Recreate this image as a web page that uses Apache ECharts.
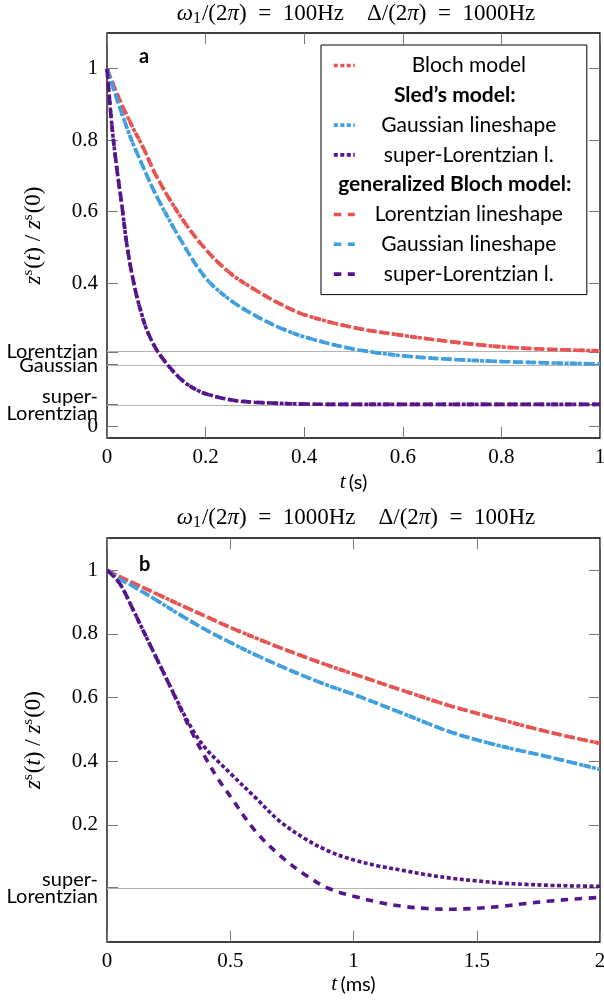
<!DOCTYPE html>
<html><head><meta charset="utf-8">
<script src="https://cdn.jsdelivr.net/npm/echarts@6/dist/echarts.min.js"></script>
<style>html,body{margin:0;padding:0;background:#fff}#c{width:604px;height:1002px}</style>
</head><body><div id="c"></div>
<script>
// ---------- Panel a (t in s) ----------
const tA = [0, 0.025, 0.05, 0.075, 0.1, 0.15, 0.2, 0.25, 0.3, 0.35, 0.4, 0.5, 0.6, 0.7, 0.8, 0.9, 1.0];
const lorentzA = [1, 0.915, 0.842, 0.775, 0.70, 0.585, 0.495, 0.428, 0.382, 0.343, 0.312, 0.276, 0.254, 0.236, 0.222, 0.215, 0.211];
const gaussA   = [1, 0.895, 0.80, 0.72, 0.645, 0.52, 0.415, 0.353, 0.31, 0.276, 0.25, 0.216, 0.197, 0.187, 0.181, 0.177, 0.174];
const tAP = [0, 0.01, 0.02, 0.03, 0.04, 0.05, 0.06, 0.07, 0.08, 0.1, 0.12, 0.14, 0.16, 0.18, 0.2, 0.25, 0.3, 0.4, 0.5, 0.7, 1.0];
const superLA = [1, 0.84, 0.72, 0.62, 0.51, 0.43, 0.365, 0.315, 0.272, 0.215, 0.177, 0.145, 0.12, 0.103, 0.091, 0.074, 0.067, 0.062, 0.061, 0.061, 0.061];
const refLinesA = [0.206, 0.172, 0.061];
const refNamesA = ['Lorentzian', 'Gaussian', 'super-\nLorentzian'];
const yTicksA = [0, 0.4, 0.6, 0.8, 1];

// ---------- Panel b (t in ms) ----------
const tB = [0, 0.05, 0.1, 0.2, 0.3, 0.4, 0.5, 0.6, 0.7, 0.8, 0.9, 1.0, 1.2, 1.4, 1.6, 1.8, 2.0];
const lorentzB = [1, 0.98, 0.962, 0.926, 0.89, 0.855, 0.82, 0.788, 0.757, 0.728, 0.70, 0.674, 0.622, 0.572, 0.53, 0.49, 0.456];
const gaussB   = [1, 0.972, 0.952, 0.906, 0.858, 0.813, 0.773, 0.735, 0.70, 0.667, 0.637, 0.61, 0.55, 0.49, 0.447, 0.412, 0.374];
const tBP = [0, 0.05, 0.1, 0.15, 0.2, 0.25, 0.3, 0.35, 0.4, 0.45, 0.5, 0.6, 0.7, 0.8, 0.9, 1.0, 1.1, 1.2, 1.3, 1.4, 1.5, 1.6, 1.7, 1.8, 1.9, 2.0];
const sledSuperLB   = [1, 0.96, 0.885, 0.805, 0.725, 0.645, 0.566, 0.495, 0.44, 0.40, 0.362, 0.287, 0.212, 0.158, 0.117, 0.09, 0.071, 0.057, 0.043, 0.032, 0.024, 0.017, 0.013, 0.01, 0.008, 0.007];
const gBlochSuperLB = [1, 0.96, 0.885, 0.805, 0.725, 0.645, 0.562, 0.482, 0.41, 0.345, 0.29, 0.182, 0.105, 0.045, 0.0, -0.024, -0.043, -0.056, -0.063, -0.065, -0.062, -0.056, -0.047, -0.039, -0.033, -0.028];
const refLinesB = [0.003];
const refNamesB = ['super-\nLorentzian'];
const yTicksB = [0.2, 0.4, 0.6, 0.8, 1];

const RED = '#e8524f', BLUE = '#3f9fe0', PURPLE = '#55158c';
const DOT = [4, 2.5], DASH = [7.5, 6.5];
const LW = 3.6;
const SERIF = 'Liberation Serif', SANS = 'Lato';

function pairs(xs, ys) { return xs.map((x, i) => [x, ys[i]]); }
function line(name, xs, ys, color, dash, ax) {
  return {
    type: 'line', name: name, data: pairs(xs, ys), xAxisIndex: ax, yAxisIndex: ax,
    symbol: 'none', smooth: 0.35, silent: true, animation: false,
    lineStyle: { color: color, width: LW, type: dash, cap: 'butt' }, itemStyle: { color: color },
    emphasis: { disabled: true }
  };
}
const wRich = { w: { fontFamily: SANS, fontSize: 20, color: '#000', lineHeight: 17 } };
function refLineSeries(vals, names, ax) {
  return {
    type: 'line', name: '_ref' + ax, data: [], xAxisIndex: ax, yAxisIndex: ax, silent: true, animation: false, clip: false,
    markLine: {
      silent: true, z: 1, symbol: ['none', 'none'], animation: false,
      lineStyle: { color: '#b4b4b4', width: 1, type: 'solid' },
      label: { show: true, position: 'start', distance: 9, color: '#000', rich: wRich },
      data: vals.map((v, i) => ({
        yAxis: v,
        label: { formatter: names[i].split('\n').map(s => '{w|' + s + '}').join('\n') }
      }))
    }
  };
}
const tickStyle = { inside: true, length: 11, lineStyle: { color: '#777', width: 1 } };
const noLine = { show: false, onZero: false };

function xAxes(grid, max, interval, nameUnit, gap) {
  return [
    { gridIndex: grid, type: 'value', min: 0, max: max, interval: interval, position: 'bottom',
      axisLine: noLine, axisTick: tickStyle, splitLine: { show: false },
      axisLabel: { margin: 9, fontFamily: SERIF, fontSize: 21, color: '#000', hideOverlap: false, showMinLabel: true, showMaxLabel: true },
      name: '{i|t} {s|(' + nameUnit + ')}', nameLocation: 'middle', nameGap: gap, nameMoveOverlap: false,
      nameTextStyle: { rich: { i: { fontFamily: SERIF, fontStyle: 'italic', fontSize: 21, color: '#000' }, s: { fontFamily: SANS, fontSize: 20, color: '#000' } } } },
    { gridIndex: grid, type: 'value', min: 0, max: max, interval: interval, position: 'top',
      axisLine: noLine, axisTick: tickStyle, splitLine: { show: false }, axisLabel: { show: false } }
  ];
}
const yNameRich = {
  i: { fontFamily: SERIF, fontStyle: 'italic', fontSize: 23, color: '#000' },
  n: { fontFamily: SERIF, fontSize: 23, color: '#000' },
  sup: { fontFamily: SERIF, fontSize: 15, color: '#000', padding: [0, 1, 11, 0] }
};
const yName = '{i|z}{sup|s}{n|(}{i|t}{n|) / }{i|z}{sup|s}{n|(0)}';
function yAxes(grid, min, max, ticks, refVals) {
  const tv = ticks.concat(refVals).sort((a, b) => a - b);
  return [
    { gridIndex: grid, type: 'value', min: min, max: max, position: 'left',
      axisLine: noLine, splitLine: { show: false },
      axisTick: Object.assign({ customValues: tv }, tickStyle),
      axisLabel: { customValues: ticks, margin: 9, hideOverlap: false, showMinLabel: true, showMaxLabel: true,
        fontFamily: SERIF, fontSize: 21, color: '#000' },
      name: yName, nameLocation: 'middle', nameGap: 60, nameRotate: 90, nameMoveOverlap: false,
      nameTextStyle: { rich: yNameRich } },
    { gridIndex: grid, type: 'value', min: min, max: max, position: 'right',
      axisLine: noLine, splitLine: { show: false }, axisLabel: { show: false },
      axisTick: Object.assign({ customValues: tv }, tickStyle) }
  ];
}

const titleRich = {
  i: { fontFamily: SERIF, fontStyle: 'italic', fontWeight: 'normal', fontSize: 23, color: '#000' },
  n: { fontFamily: SERIF, fontWeight: 'normal', fontSize: 23, color: '#000' },
  sub: { fontFamily: SERIF, fontWeight: 'normal', fontSize: 16, color: '#000', padding: [10, 1, 0, 0] }
};
function titleText(w1, d) {
  return '{i|ω}{sub|1}{n|/(2}{i|π}{n|)  =  ' + w1 + 'Hz    Δ/(2}{i|π}{n|)  =  ' + d + 'Hz}';
}

const legendNames = {
  'Bloch model': '{c|Bloch model}',
  'Sled header': '{h|Sled’s model:}',
  'Sled Gaussian': '{c|Gaussian lineshape}',
  'Sled superL': '{c|super-Lorentzian l.}',
  'gBloch header': '{h|generalized Bloch model:}',
  'gBloch Lorentzian': '{c|Lorentzian lineshape}',
  'gBloch Gaussian': '{c|Gaussian lineshape}',
  'gBloch superL': '{c|super-Lorentzian l.}'
};

const series = [
  refLineSeries(refLinesA, refNamesA, 0),
  refLineSeries(refLinesB, refNamesB, 2),
  line('Bloch model', tA, lorentzA, RED, DOT, 0),
  line('Sled Gaussian', tA, gaussA, BLUE, DOT, 0),
  line('Sled superL', tAP, superLA, PURPLE, DOT, 0),
  line('gBloch Lorentzian', tA, lorentzA, RED, DASH, 0),
  line('gBloch Gaussian', tA, gaussA, BLUE, DASH, 0),
  line('gBloch superL', tAP, superLA, PURPLE, DASH, 0),
  line('Bloch model', tB, lorentzB, RED, DOT, 2),
  line('Sled Gaussian', tB, gaussB, BLUE, DOT, 2),
  line('Sled superL', tBP, sledSuperLB, PURPLE, DOT, 2),
  line('gBloch Lorentzian', tB, lorentzB, RED, DASH, 2),
  line('gBloch Gaussian', tB, gaussB, BLUE, DASH, 2),
  line('gBloch superL', tBP, gBlochSuperLB, PURPLE, DASH, 2),
  { type: 'line', name: 'Sled header', data: [], xAxisIndex: 0, yAxisIndex: 0, symbol: 'none', lineStyle: { width: 0 } },
  { type: 'line', name: 'gBloch header', data: [], xAxisIndex: 0, yAxisIndex: 0, symbol: 'none', lineStyle: { width: 0 } }
];

const gridBase = { left: 107, width: 493, show: true, borderColor: '#000', borderWidth: 1.3, backgroundColor: 'rgba(0,0,0,0)', containLabel: false, outerBoundsMode: 'none' };

const option = {
  animation: false,
  backgroundColor: '#fff',
  title: [
    { text: titleText(100, 1000), left: 356, top: 1, textAlign: 'center', padding: 0, textStyle: { fontWeight: 'normal', rich: titleRich } },
    { text: titleText(1000, 100), left: 356, top: 505, textAlign: 'center', padding: 0, textStyle: { fontWeight: 'normal', rich: titleRich } },
    { text: 'a', left: 139, top: 47, padding: 0, textStyle: { fontFamily: SANS, fontWeight: 'bold', fontSize: 20, color: '#000' } },
    { text: 'b', left: 139, top: 555, padding: 0, textStyle: { fontFamily: SANS, fontWeight: 'bold', fontSize: 20, color: '#000' } }
  ],
  grid: [
    Object.assign({ top: 33, height: 405 }, gridBase),
    Object.assign({ top: 538, height: 404 }, gridBase)
  ],
  xAxis: xAxes(0, 1, 0.2, 's', 34).concat(xAxes(1, 2, 0.5, 'ms', 32)),
  yAxis: yAxes(0, -0.033, 1.1, yTicksA, refLinesA).concat(yAxes(1, -0.168, 1.101, yTicksB, refLinesB)),
  legend: {
    orient: 'vertical', left: 321, top: 45, padding: [10, 9, 10, 11], itemGap: 8.8,
    itemWidth: 21, itemHeight: 8, backgroundColor: '#fff', borderColor: '#000', borderWidth: 1,
    selectedMode: false,
    lineStyle: { width: LW },
    itemStyle: { opacity: 0 },
    data: [
      { name: 'Bloch model' },
      { name: 'Sled header', icon: 'none' },
      { name: 'Sled Gaussian' },
      { name: 'Sled superL' },
      { name: 'gBloch header', icon: 'none' },
      { name: 'gBloch Lorentzian' },
      { name: 'gBloch Gaussian' },
      { name: 'gBloch superL' }
    ],
    formatter: n => legendNames[n] || n,
    textStyle: {
      rich: {
        c: { fontFamily: SANS, fontSize: 21, color: '#000', width: 218, align: 'center', lineHeight: 20 },
        h: { fontFamily: SANS, fontSize: 21, fontWeight: 'bold', color: '#000', width: 190, align: 'center', lineHeight: 20 }
      }
    }
  },
  series: series
};

const chart = echarts.init(document.getElementById('c'), null, { renderer: 'canvas' });
chart.setOption(option);
</script></body></html>
